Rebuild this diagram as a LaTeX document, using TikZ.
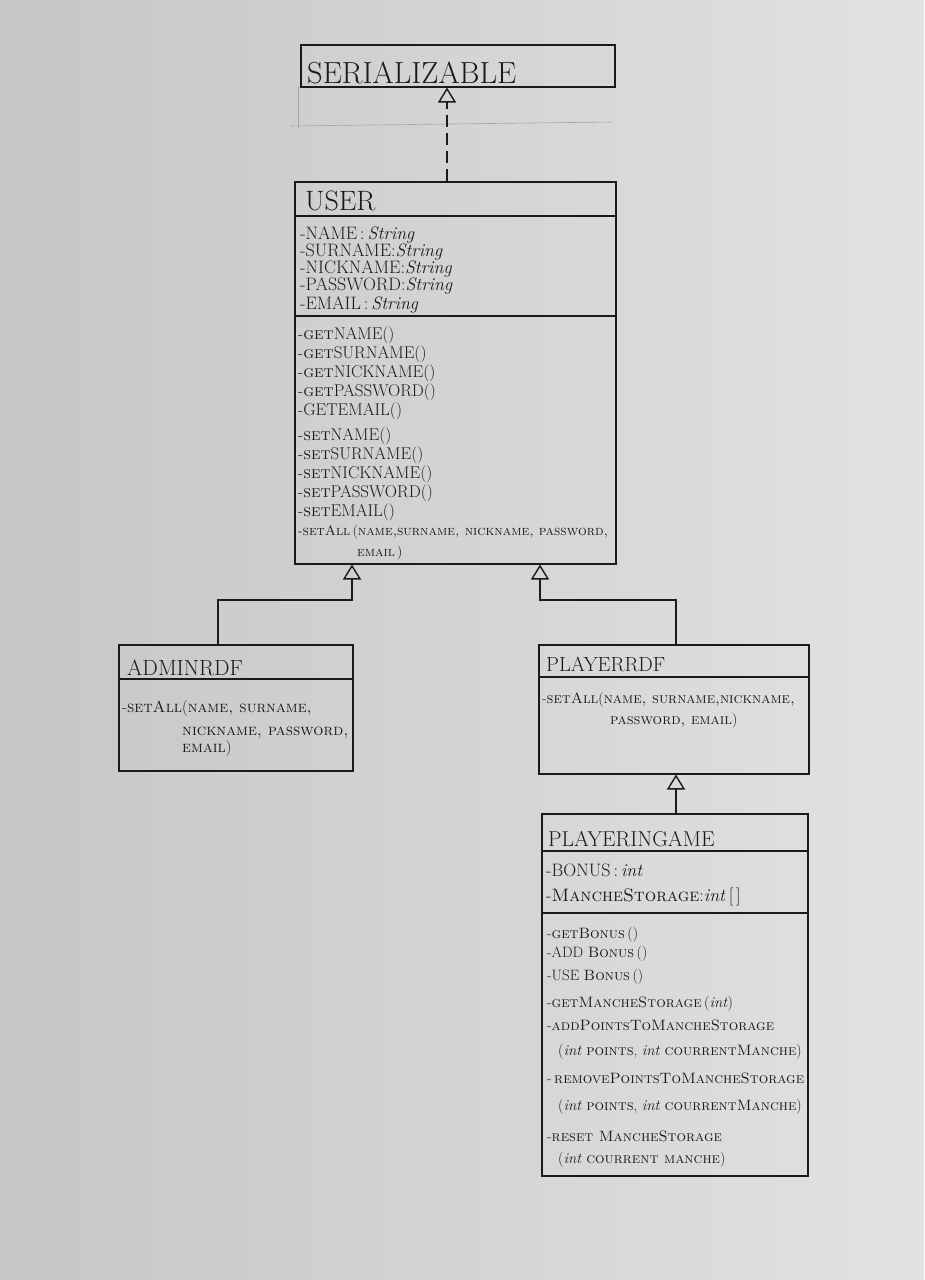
\documentclass[tikz,border=0pt]{standalone}
\usetikzlibrary{arrows.meta}
\definecolor{ink}{RGB}{26,26,26}
\definecolor{paperL}{RGB}{198,198,198}
\definecolor{paperR}{RGB}{226,226,226}
\definecolor{pencil}{RGB}{165,165,165}
\begin{document}
\begin{tikzpicture}[x=1pt,y=-1pt,
  box/.style={draw=ink, line width=1.5pt, anchor=north west, inner sep=0pt},
  ln/.style={draw=ink, line width=1.5pt},
  gen/.style={draw=ink, line width=1.5pt, -{Triangle[open, length=15pt, width=18pt, line width=1.4pt]}},
  tx/.style={anchor=base west, inner sep=0pt, text=ink},
  ttl/.style={tx, font=\fontsize{22}{22}\selectfont},
  att/.style={tx, font=\fontsize{18}{18}\selectfont},
  mth/.style={tx, font=\fontsize{17}{17}\selectfont},
  mthu/.style={tx, font=\fontsize{13.8}{13.8}\selectfont},
  mtha/.style={tx, font=\fontsize{16}{16}\selectfont},
  mthp/.style={tx, font=\fontsize{15}{15}\selectfont},
  mthg/.style={tx, font=\fontsize{15}{15}\selectfont}]
\useasboundingbox (0,0) rectangle (924,1280);
\shade[left color=paperL, right color=paperR] (0,0) rectangle (924,1280);

% faint erased pencil lines
\draw[pencil, line width=0.6pt] (298,86) -- (298,128);
\draw[pencil, line width=0.6pt] (290,126) -- (612,122);

% boxes
\node[box, minimum width=314pt, minimum height=42pt] (ser) at (300,44) {};
\node[box, minimum width=321pt, minimum height=382pt] (user) at (294,181) {};
\node[box, minimum width=234pt, minimum height=126pt] (adm) at (118,644) {};
\node[box, minimum width=270pt, minimum height=129pt] (prdf) at (538,644) {};
\node[box, minimum width=266pt, minimum height=362pt] (pig) at (541,813) {};

% compartment dividers
\draw[ln] ([yshift=-35pt]user.north west) -- ([yshift=-35pt]user.north east);
\draw[ln] ([yshift=-135pt]user.north west) -- ([yshift=-135pt]user.north east);
\draw[ln] ([yshift=-35pt]adm.north west) -- ([yshift=-35pt]adm.north east);
\draw[ln] ([yshift=-33pt]prdf.north west) -- ([yshift=-33pt]prdf.north east);
\draw[ln] ([yshift=-38pt]pig.north west) -- ([yshift=-38pt]pig.north east);
\draw[ln] ([yshift=-100pt]pig.north west) -- ([yshift=-100pt]pig.north east);

% connectors
\draw[gen, dash pattern=on 12pt off 6pt] ([xshift=153pt]user.north west) coordinate (d0) -- (d0 |- ser.south);
\draw[gen] ([xshift=100pt]adm.north west) -- ++(0,-44) -| ([xshift=58pt]user.south west);
\draw[gen] ([xshift=138pt]prdf.north west) -- ++(0,-44) -| ([xshift=246pt]user.south west);
\draw[gen] ([xshift=135pt]pig.north west) coordinate (p0) -- (p0 |- prdf.south);

% SERIALIZABLE
\node[tx, font=\fontsize{30.5}{30.5}\selectfont] (serT) at (307,83) {SERIALIZABLE};

% USER
\node[tx, font=\fontsize{28}{28}\selectfont] (userT) at (305,210) {USER};
\node[att] (ua1) at (300,239) {-NAME\,:\,\textit{String}};
\node[att] (ua2) at (300,256) {-SURNAME:\textit{String}};
\node[att] (ua3) at (300,273) {-NICKNAME:\textit{String}};
\node[att] (ua4) at (300,290) {-PASSWORD:\textit{String}};
\node[att] (ua5) at (300,309) {-EMAIL\,:\,\textit{String}};

\node[mth] (um1) at (298,339) {-\textsc{get}NAME()};
\node[mth] (um2) at (298,358) {-\textsc{get}SURNAME()};
\node[mth] (um3) at (298,377) {-\textsc{get}NICKNAME()};
\node[mth] (um4) at (298,396) {-\textsc{get}PASSWORD()};
\node[mth] (um5) at (298,415) {-GETEMAIL()};
\node[mth] (um6) at (298,440) {-\textsc{set}NAME()};
\node[mth] (um7) at (298,459) {-\textsc{set}SURNAME()};
\node[mth] (um8) at (298,478) {-\textsc{set}NICKNAME()};
\node[mth] (um9) at (298,497) {-\textsc{set}PASSWORD()};
\node[mth] (um10) at (298,516) {-\textsc{set}EMAIL()};
\node[mthu] (um11) at (298,535) {-\textsc{setAll}\,(\textsc{name,surname, nickname, password,}};
\node[mthu] (um12) at (357,556) {\textsc{email}\,)};

% ADMINRDF
\node[ttl] (admT) at (127,675) {ADMINRDF};
\node[mtha] (am1) at (122,712) {-\textsc{setAll}(\textsc{name, surname,}};
\node[mtha] (am2) at (182,735) {\textsc{nickname, password,}};
\node[mtha] (am3) at (182,752) {\textsc{email})};

% PLAYERRDF
\node[tx, font=\fontsize{20.5}{20.5}\selectfont] (prdfT) at (546,671) {PLAYERRDF};
\node[mthp] (pm1) at (542,703) {-\textsc{setAll}(\textsc{name, surname,nickname,}};
\node[mthp] (pm2) at (610,724) {\textsc{password, email})};

% PLAYERINGAME
\node[tx, font=\fontsize{21.5}{21.5}\selectfont] (pigT) at (548,846) {PLAYERINGAME};
\node[att] (ga1) at (546,876) {-BONUS\,:\,\textit{int}};
\node[att] (ga2) at (546,901) {-\textsc{MancheStorage}:\textit{int}\,[\,]};
\node[mthg] (gm1) at (547,938) {-\textsc{getBonus}\,()};
\node[mthg] (gm2) at (547,957) {-ADD \textsc{Bonus}\,()};
\node[mthg] (gm3) at (547,980) {-USE \textsc{Bonus}\,()};
\node[mthg] (gm4) at (547,1007) {-\textsc{getMancheStorage}\,(\textit{int})};
\node[mthg] (gm5) at (547,1030) {-\textsc{addPointsToMancheStorage}};
\node[mthg] (gm6) at (558,1055) {(\textit{int} \textsc{points}, \textit{int} \textsc{courrentManche})};
\node[mthg] (gm7) at (547,1083) {-\,\textsc{removePointsToMancheStorage}};
\node[mthg] (gm8) at (558,1110) {(\textit{int} \textsc{points}, \textit{int} \textsc{courrentManche})};
\node[mthg] (gm9) at (547,1141) {-\textsc{reset MancheStorage}};
\node[mthg] (gm10) at (558,1163) {(\textit{int} \textsc{courrent manche})};
\end{tikzpicture}
\end{document}
